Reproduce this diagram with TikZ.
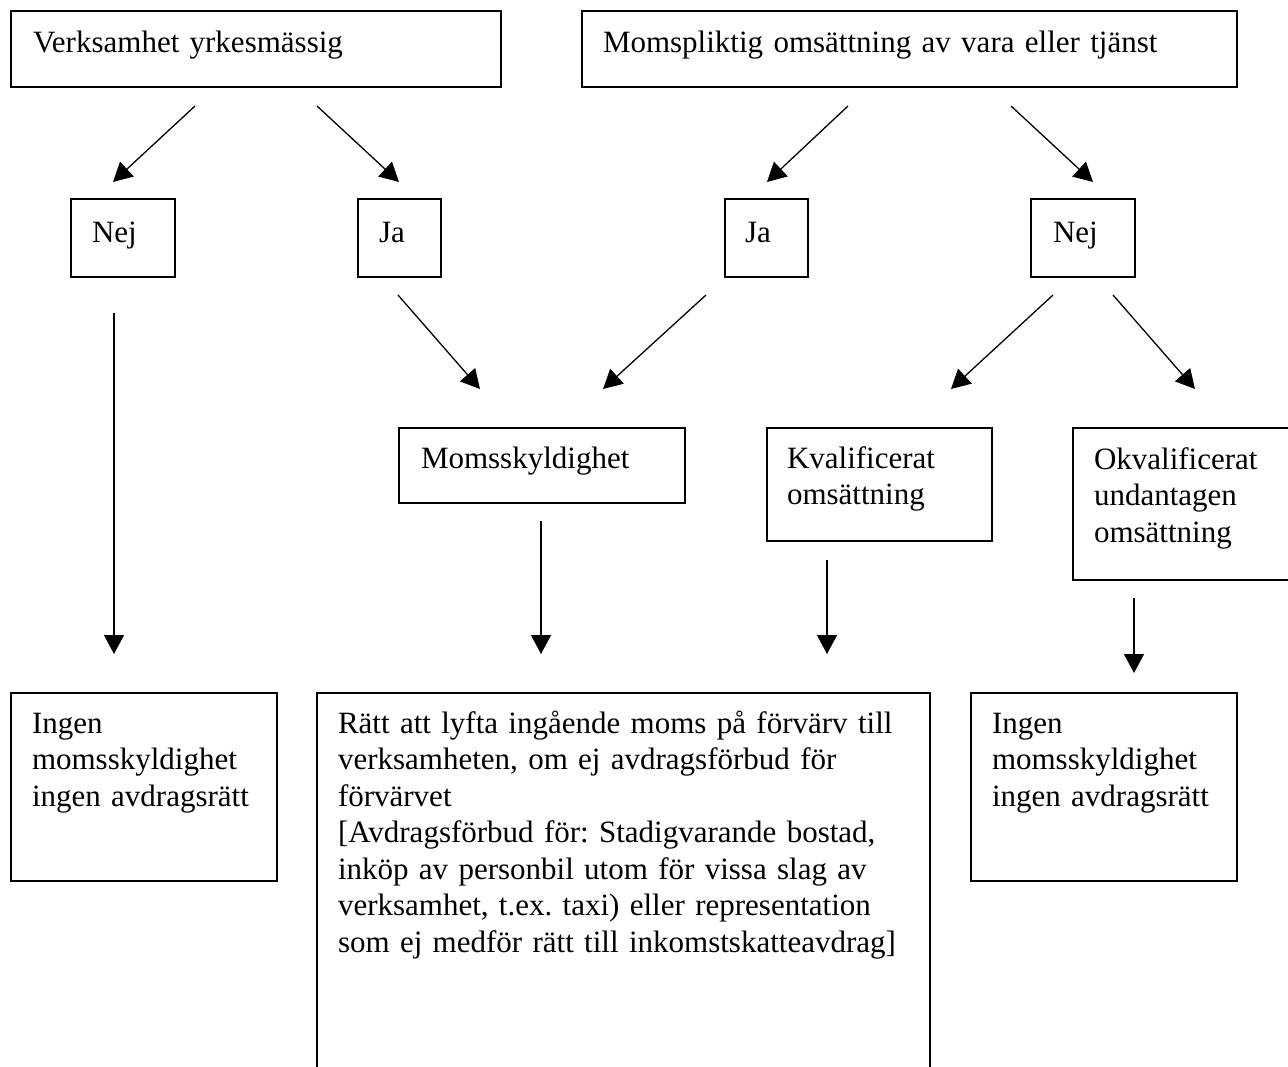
\documentclass[tikz,border=0pt]{standalone}
\usepackage{fontspec}
\setmainfont{Liberation Serif}
\usetikzlibrary{arrows.meta}
\newcommand\boxfont{\fontsize{31}{36.5}\selectfont\frenchspacing}
\newcommand\oneline[1]{\mbox{#1}}
% name, x1, y1, x2, y2, baseline y, left padding, text
\newcommand\mkbox[8]{%
  \pgfmathsetmacro\bw{#4-#2-2*#7}%
  \pgfmathsetmacro\bth{#6-#3}%
  \pgfmathsetmacro\btd{#5-#6}%
  \node[box, inner xsep=#7pt, text width=\bw pt, text height=\bth pt, text depth=\btd pt] (#1) at (#2,#3) {#8};}
\begin{document}
\begin{tikzpicture}[x=1pt,y=-1pt,
  box/.style={draw, line width=1.8pt, anchor=north west, inner ysep=0pt, outer sep=0pt, align=left, font=\boxfont},
  arr/.style={line width=1.3pt, -{Triangle[length=19pt,width=20pt]}}]
\fill[white] (0,0) rectangle (1288,1066);
\useasboundingbox (0,0) rectangle (1288,1066);

% top row
\mkbox{verk}{11}{11}{501}{87}{52}{22}{Verksamhet yrkesmässig}
\mkbox{moms}{582}{11}{1237}{87}{52}{21}{Momspliktig omsättning av vara eller tjänst}

% yes / no
\mkbox{nejA}{71}{199}{175}{277}{242}{21}{Nej}
\mkbox{jaA}{358}{199}{441}{277}{242}{21}{Ja}
\mkbox{jaB}{725}{199}{808}{277}{242}{20}{Ja}
\mkbox{nejB}{1031}{199}{1135}{277}{242}{22}{Nej}

% middle row
\mkbox{skyld}{399}{428}{685}{503}{468}{22}{Momsskyldighet}
\mkbox{kval}{767}{428}{992}{541}{468}{20}{Kvalificerat\\omsättning}
\mkbox{okval}{1073}{428}{1296}{580}{469}{21}{Okvalificerat\\undantagen\\omsättning}

% bottom row
\mkbox{ingenA}{11}{693}{277}{881}{733}{21}{Ingen\\momsskyldighet\\\oneline{ingen avdragsrätt}}
\mkbox{ratt}{317}{693}{930}{1078}{733}{21}{%
\oneline{Rätt att lyfta ingående moms på förvärv till}\\
\oneline{verksamheten, om ej avdragsförbud för}\\
\oneline{förvärvet}\\
\oneline{[Avdragsförbud för: Stadigvarande bostad,}\\
\oneline{inköp av personbil utom för vissa slag av}\\
\oneline{verksamhet, t.ex. taxi) eller representation}\\
\oneline{som ej medför rätt till inkomstskatteavdrag]}}
\mkbox{ingenB}{971}{693}{1237}{881}{733}{21}{Ingen\\momsskyldighet\\\oneline{ingen avdragsrätt}}

% connector end points
\coordinate (a1s) at (195,106);  \coordinate (a1e) at (113,182);
\coordinate (a2s) at (317,106);  \coordinate (a2e) at (399,182);
\coordinate (a3s) at (848,106);  \coordinate (a3e) at (767,182);
\coordinate (a4s) at (1011,106); \coordinate (a4e) at (1093,182);
\coordinate (a5s) at (398,295);  \coordinate (a5e) at (480,389);
\coordinate (a6s) at (706,295);  \coordinate (a6e) at (603,389);
\coordinate (a7s) at (1053,295); \coordinate (a7e) at (951,389);
\coordinate (a8s) at (1113,295); \coordinate (a8e) at (1195,389);
\coordinate (a9s) at (114,313);  \coordinate (a9e) at (114,654);
\coordinate (a10s) at (541,521); \coordinate (a10e) at (541,654);
\coordinate (a11s) at (827,560); \coordinate (a11e) at (827,654);
\coordinate (a12s) at (1134,598); \coordinate (a12e) at (1134,673);

\foreach \i in {1,...,12} {\draw[arr] (a\i s) -- (a\i e);}
\end{tikzpicture}
\end{document}
